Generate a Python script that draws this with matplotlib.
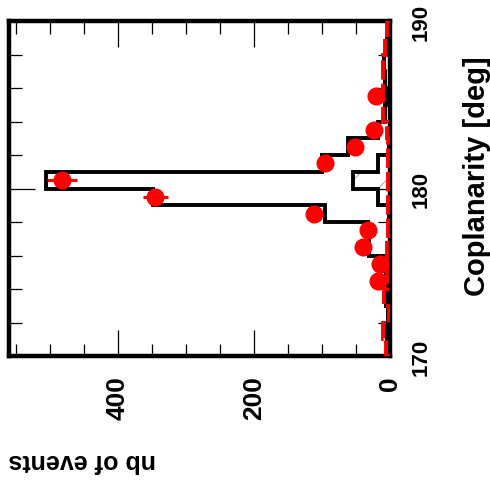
import numpy as np
import matplotlib
matplotlib.use("Agg")
import matplotlib.pyplot as plt
from matplotlib.ticker import MultipleLocator

# Coplanarity bins, 1 deg wide
bin_edges = list(range(170, 191))

# Expected signal (black solid histogram)
mc_total = [3, 5, 3, 6, 6, 5, 31, 33, 95, 349,
            505, 100, 62, 18, 8, 6, 8, 9, 4, 2]

# Background (red dashed histogram)
background = [6, 10, 1, 9, 4, 4, 4, 3, 3, 3,
              3, 3, 3, 5, 10, 10, 11, 11, 8, 5]

# Hatched component, only filled around the peak
hatched_edges = [178, 179, 180, 181, 182, 183]
hatched = [2, 17, 55, 18, 2]

# Measured events per bin (0 = empty bin, not drawn)
data_counts = [0, 0, 0, 0, 17, 15, 39, 33, 111, 345,
               482, 95, 52, 24, 0, 20, 0, 0, 0, 0]

plt.rcParams.update({
    "font.family": ["Liberation Sans", "DejaVu Sans"],
    "font.weight": "bold",
    "hatch.linewidth": 0.7,
})

fig = plt.figure(figsize=(4.9, 4.85), dpi=100)
ax = fig.add_axes([9 / 490, 128 / 485, 381 / 490, 335 / 485])

edges = np.array(bin_edges, dtype=float)
centers = edges[:-1] + 0.5
counts = np.array(data_counts, dtype=float)
has_data = counts > 0

# histograms drawn sideways: counts along x, coplanarity along y
ax.stairs(mc_total, edges, orientation="horizontal", color="black",
          linewidth=2.8, zorder=2)
ax.stairs(hatched, hatched_edges, orientation="horizontal", fill=True,
          facecolor="none", edgecolor="#a8a8a8", linewidth=0, hatch="/",
          zorder=2.5)
ax.stairs(hatched, hatched_edges, orientation="horizontal", color="black",
          linewidth=2.8, zorder=2.6)
ax.stairs(background, edges, orientation="horizontal", color="red",
          linewidth=2.8, linestyle=(0, (5, 1)), zorder=3)
ax.errorbar(counts[has_data], centers[has_data],
            xerr=np.sqrt(counts[has_data]), fmt="o", color="red",
            markersize=12, elinewidth=2.2, capsize=0, zorder=4)

ax.set_xlim(560, 0)
ax.set_ylim(170, 190)

ax.xaxis.set_major_locator(MultipleLocator(200))
ax.xaxis.set_minor_locator(MultipleLocator(50))
ax.yaxis.set_major_locator(MultipleLocator(10))
ax.yaxis.set_minor_locator(MultipleLocator(2))

ax.tick_params(which="both", direction="in", top=True, bottom=True,
               left=True, right=True, width=0.9)
ax.tick_params(which="major", length=19)
ax.tick_params(which="minor", length=9)
ax.tick_params(axis="x", labelsize=19, pad=14, labelrotation=90)
ax.tick_params(axis="y", labelleft=False, labelright=True, labelsize=16,
               pad=15, labelrotation=90)
for lbl in ax.get_yticklabels():
    lbl.set_va("center")

for side in ax.spines.values():
    side.set_linewidth(3.2)

fig.text(477 / 490, 1 - 176 / 485, "Coplanarity [deg]", rotation=90,
         ha="center", va="center", fontsize=21)
fig.text(82 / 490, 1 - 461 / 485, "nb of events", rotation=180,
         ha="center", va="center", fontsize=18)

fig.savefig("out.png", dpi=100)
